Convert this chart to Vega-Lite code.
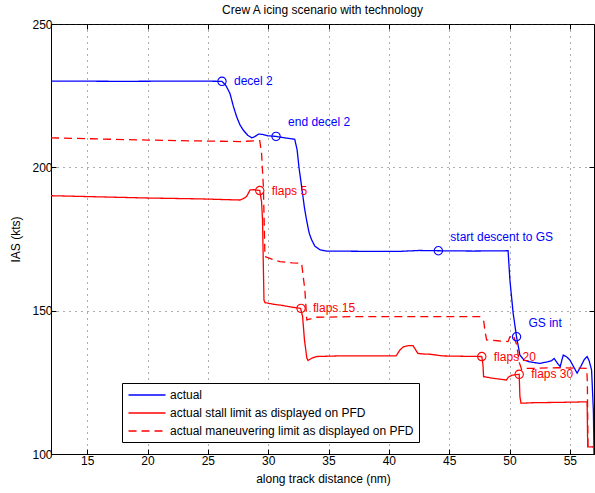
{
  "$schema": "https://vega.github.io/schema/vega-lite/v6.json",
  "width": 543,
  "height": 430,
  "autosize": {"type": "none"},
  "padding": {"left": 51, "top": 24, "right": 1, "bottom": 39},
  "background": "white",
  "title": {"text": "Crew A icing scenario with technology", "fontSize": 12, "fontWeight": "normal", "font": "Liberation Sans", "color": "black", "offset": 1},
  "datasets": {
    "lines": [
      {"series": "actual", "x": 12, "y": 230.1},
      {"series": "actual", "x": 18, "y": 230.0},
      {"series": "actual", "x": 24, "y": 230.1},
      {"series": "actual", "x": 26.17, "y": 230.0},
      {"series": "actual", "x": 26.5, "y": 228.5},
      {"series": "actual", "x": 26.83, "y": 225.8},
      {"series": "actual", "x": 27.1, "y": 221.5},
      {"series": "actual", "x": 27.38, "y": 217.7},
      {"series": "actual", "x": 27.66, "y": 214.8},
      {"series": "actual", "x": 27.93, "y": 213.0},
      {"series": "actual", "x": 28.3, "y": 211.2},
      {"series": "actual", "x": 28.63, "y": 210.3},
      {"series": "actual", "x": 28.85, "y": 210.6},
      {"series": "actual", "x": 29.2, "y": 211.6},
      {"series": "actual", "x": 29.5, "y": 211.5},
      {"series": "actual", "x": 30.0, "y": 211.0},
      {"series": "actual", "x": 30.6, "y": 210.8},
      {"series": "actual", "x": 31.5, "y": 210.2},
      {"series": "actual", "x": 32.2, "y": 209.8},
      {"series": "actual", "x": 32.4, "y": 206.0},
      {"series": "actual", "x": 32.55, "y": 200.0},
      {"series": "actual", "x": 32.77, "y": 193.3},
      {"series": "actual", "x": 33.0, "y": 186.0},
      {"series": "actual", "x": 33.18, "y": 181.6},
      {"series": "actual", "x": 33.4, "y": 177.0},
      {"series": "actual", "x": 33.6, "y": 174.7},
      {"series": "actual", "x": 33.87, "y": 172.5},
      {"series": "actual", "x": 34.3, "y": 171.2},
      {"series": "actual", "x": 34.84, "y": 170.8},
      {"series": "actual", "x": 38, "y": 170.7},
      {"series": "actual", "x": 41, "y": 170.7},
      {"series": "actual", "x": 42.5, "y": 171.0},
      {"series": "actual", "x": 44.1, "y": 170.9},
      {"series": "actual", "x": 47, "y": 170.8},
      {"series": "actual", "x": 49.88, "y": 170.9},
      {"series": "actual", "x": 50.03, "y": 160.7},
      {"series": "actual", "x": 50.3, "y": 149.1},
      {"series": "actual", "x": 50.58, "y": 140.9},
      {"series": "actual", "x": 50.86, "y": 134.5},
      {"series": "actual", "x": 51.2, "y": 132.8},
      {"series": "actual", "x": 51.6, "y": 132.2},
      {"series": "actual", "x": 52.5, "y": 131.6},
      {"series": "actual", "x": 53.2, "y": 132.2},
      {"series": "actual", "x": 53.5, "y": 132.6},
      {"series": "actual", "x": 53.7, "y": 133.3},
      {"series": "actual", "x": 54.0, "y": 131.5},
      {"series": "actual", "x": 54.2, "y": 130.5},
      {"series": "actual", "x": 54.45, "y": 134.5},
      {"series": "actual", "x": 54.7, "y": 134.0},
      {"series": "actual", "x": 55.0, "y": 132.8},
      {"series": "actual", "x": 55.3, "y": 130.5},
      {"series": "actual", "x": 55.6, "y": 128.2},
      {"series": "actual", "x": 55.9, "y": 130.5},
      {"series": "actual", "x": 56.2, "y": 133.0},
      {"series": "actual", "x": 56.43, "y": 134.0},
      {"series": "actual", "x": 56.6, "y": 132.5},
      {"series": "actual", "x": 56.8, "y": 129.3},
      {"series": "actual", "x": 56.95, "y": 115.0},
      {"series": "actual", "x": 57.0, "y": 100.0},

      {"series": "actual stall limit as displayed on PFD", "x": 12, "y": 190.1},
      {"series": "actual stall limit as displayed on PFD", "x": 16, "y": 189.7},
      {"series": "actual stall limit as displayed on PFD", "x": 20, "y": 189.3},
      {"series": "actual stall limit as displayed on PFD", "x": 24.3, "y": 189.0},
      {"series": "actual stall limit as displayed on PFD", "x": 27.66, "y": 188.6},
      {"series": "actual stall limit as displayed on PFD", "x": 28.0, "y": 189.2},
      {"series": "actual stall limit as displayed on PFD", "x": 28.2, "y": 189.8},
      {"series": "actual stall limit as displayed on PFD", "x": 28.5, "y": 192.1},
      {"series": "actual stall limit as displayed on PFD", "x": 28.8, "y": 192.2},
      {"series": "actual stall limit as displayed on PFD", "x": 29.3, "y": 191.9},
      {"series": "actual stall limit as displayed on PFD", "x": 29.45, "y": 188.0},
      {"series": "actual stall limit as displayed on PFD", "x": 29.53, "y": 181.6},
      {"series": "actual stall limit as displayed on PFD", "x": 29.6, "y": 165.0},
      {"series": "actual stall limit as displayed on PFD", "x": 29.65, "y": 153.7},
      {"series": "actual stall limit as displayed on PFD", "x": 29.73, "y": 152.8},
      {"series": "actual stall limit as displayed on PFD", "x": 30.5, "y": 152.2},
      {"series": "actual stall limit as displayed on PFD", "x": 31.2, "y": 151.8},
      {"series": "actual stall limit as displayed on PFD", "x": 32.0, "y": 151.2},
      {"series": "actual stall limit as displayed on PFD", "x": 32.68, "y": 150.8},
      {"series": "actual stall limit as displayed on PFD", "x": 32.85, "y": 148.0},
      {"series": "actual stall limit as displayed on PFD", "x": 33.0, "y": 140.0},
      {"series": "actual stall limit as displayed on PFD", "x": 33.2, "y": 133.5},
      {"series": "actual stall limit as displayed on PFD", "x": 33.3, "y": 132.6},
      {"series": "actual stall limit as displayed on PFD", "x": 33.6, "y": 133.4},
      {"series": "actual stall limit as displayed on PFD", "x": 34.0, "y": 134.0},
      {"series": "actual stall limit as displayed on PFD", "x": 35.7, "y": 134.2},
      {"series": "actual stall limit as displayed on PFD", "x": 40.6, "y": 134.2},
      {"series": "actual stall limit as displayed on PFD", "x": 40.9, "y": 136.2},
      {"series": "actual stall limit as displayed on PFD", "x": 41.2, "y": 137.4},
      {"series": "actual stall limit as displayed on PFD", "x": 41.6, "y": 137.8},
      {"series": "actual stall limit as displayed on PFD", "x": 42.0, "y": 137.8},
      {"series": "actual stall limit as displayed on PFD", "x": 42.4, "y": 135.1},
      {"series": "actual stall limit as displayed on PFD", "x": 42.8, "y": 134.9},
      {"series": "actual stall limit as displayed on PFD", "x": 43.4, "y": 134.8},
      {"series": "actual stall limit as displayed on PFD", "x": 44.5, "y": 134.2},
      {"series": "actual stall limit as displayed on PFD", "x": 46, "y": 134.1},
      {"series": "actual stall limit as displayed on PFD", "x": 47.7, "y": 134.0},
      {"series": "actual stall limit as displayed on PFD", "x": 47.8, "y": 131.0},
      {"series": "actual stall limit as displayed on PFD", "x": 47.85, "y": 127.0},
      {"series": "actual stall limit as displayed on PFD", "x": 48.5, "y": 126.5},
      {"series": "actual stall limit as displayed on PFD", "x": 49.75, "y": 125.8},
      {"series": "actual stall limit as displayed on PFD", "x": 49.9, "y": 126.8},
      {"series": "actual stall limit as displayed on PFD", "x": 50.2, "y": 127.5},
      {"series": "actual stall limit as displayed on PFD", "x": 50.8, "y": 127.8},
      {"series": "actual stall limit as displayed on PFD", "x": 50.86, "y": 120.0},
      {"series": "actual stall limit as displayed on PFD", "x": 50.95, "y": 117.7},
      {"series": "actual stall limit as displayed on PFD", "x": 52, "y": 117.9},
      {"series": "actual stall limit as displayed on PFD", "x": 54, "y": 118.0},
      {"series": "actual stall limit as displayed on PFD", "x": 56.43, "y": 118.2},
      {"series": "actual stall limit as displayed on PFD", "x": 56.48, "y": 102.5},
      {"series": "actual stall limit as displayed on PFD", "x": 57, "y": 102.5},

      {"series": "actual maneuvering limit as displayed on PFD", "x": 12, "y": 210.3},
      {"series": "actual maneuvering limit as displayed on PFD", "x": 16, "y": 209.9},
      {"series": "actual maneuvering limit as displayed on PFD", "x": 20, "y": 209.5},
      {"series": "actual maneuvering limit as displayed on PFD", "x": 24.3, "y": 209.2},
      {"series": "actual maneuvering limit as displayed on PFD", "x": 27.66, "y": 209.0},
      {"series": "actual maneuvering limit as displayed on PFD", "x": 29.3, "y": 209.3},
      {"series": "actual maneuvering limit as displayed on PFD", "x": 29.45, "y": 204.9},
      {"series": "actual maneuvering limit as displayed on PFD", "x": 29.6, "y": 193.3},
      {"series": "actual maneuvering limit as displayed on PFD", "x": 29.73, "y": 168.9},
      {"series": "actual maneuvering limit as displayed on PFD", "x": 30.3, "y": 168.0},
      {"series": "actual maneuvering limit as displayed on PFD", "x": 30.97, "y": 167.1},
      {"series": "actual maneuvering limit as displayed on PFD", "x": 32.0, "y": 166.7},
      {"series": "actual maneuvering limit as displayed on PFD", "x": 32.77, "y": 166.5},
      {"series": "actual maneuvering limit as displayed on PFD", "x": 32.9, "y": 162.0},
      {"series": "actual maneuvering limit as displayed on PFD", "x": 33.04, "y": 157.2},
      {"series": "actual maneuvering limit as displayed on PFD", "x": 33.15, "y": 150.0},
      {"series": "actual maneuvering limit as displayed on PFD", "x": 33.2, "y": 146.8},
      {"series": "actual maneuvering limit as displayed on PFD", "x": 34.0, "y": 147.7},
      {"series": "actual maneuvering limit as displayed on PFD", "x": 36.8, "y": 147.9},
      {"series": "actual maneuvering limit as displayed on PFD", "x": 40, "y": 147.9},
      {"series": "actual maneuvering limit as displayed on PFD", "x": 44, "y": 147.9},
      {"series": "actual maneuvering limit as displayed on PFD", "x": 47.54, "y": 147.9},
      {"series": "actual maneuvering limit as displayed on PFD", "x": 47.87, "y": 146.2},
      {"series": "actual maneuvering limit as displayed on PFD", "x": 47.95, "y": 143.3},
      {"series": "actual maneuvering limit as displayed on PFD", "x": 48.1, "y": 139.8},
      {"series": "actual maneuvering limit as displayed on PFD", "x": 49.0, "y": 139.5},
      {"series": "actual maneuvering limit as displayed on PFD", "x": 49.88, "y": 139.2},
      {"series": "actual maneuvering limit as displayed on PFD", "x": 50.03, "y": 140.9},
      {"series": "actual maneuvering limit as displayed on PFD", "x": 50.3, "y": 141.5},
      {"series": "actual maneuvering limit as displayed on PFD", "x": 50.6, "y": 138.0},
      {"series": "actual maneuvering limit as displayed on PFD", "x": 50.8, "y": 132.0},
      {"series": "actual maneuvering limit as displayed on PFD", "x": 51.0, "y": 129.5},
      {"series": "actual maneuvering limit as displayed on PFD", "x": 51.1, "y": 129.9},
      {"series": "actual maneuvering limit as displayed on PFD", "x": 52.0, "y": 129.9},
      {"series": "actual maneuvering limit as displayed on PFD", "x": 54, "y": 130.1},
      {"series": "actual maneuvering limit as displayed on PFD", "x": 56.4, "y": 129.9},
      {"series": "actual maneuvering limit as displayed on PFD", "x": 56.45, "y": 124.7},
      {"series": "actual maneuvering limit as displayed on PFD", "x": 56.5, "y": 102.5},
      {"series": "actual maneuvering limit as displayed on PFD", "x": 57, "y": 102.5}
    ],
    "events": [
      {"label": "decel 2", "series": "actual", "place": "right", "x": 26.17, "y": 230.0},
      {"label": "end decel 2", "series": "actual", "place": "above", "x": 30.65, "y": 210.8},
      {"label": "start descent to GS", "series": "actual", "place": "above", "x": 44.1, "y": 170.9},
      {"label": "GS int", "series": "actual", "place": "above", "x": 50.58, "y": 140.9},
      {"label": "flaps 5", "series": "stall", "place": "right", "x": 29.3, "y": 191.9},
      {"label": "flaps 15", "series": "stall", "place": "right", "x": 32.72, "y": 150.8},
      {"label": "flaps 20", "series": "stall", "place": "right", "x": 47.7, "y": 134.0},
      {"label": "flaps 30", "series": "stall", "place": "right", "x": 50.8, "y": 127.8}
    ]
  },
  "resolve": {"axis": {"x": "independent", "y": "independent"}},
  "layer": [
    {
      "data": {"name": "lines"},
      "mark": {"type": "line", "strokeWidth": 1.3, "clip": true},
      "encoding": {
        "x": {"field": "x", "type": "quantitative", "scale": {"domain": [12, 57], "nice": false, "zero": false},
              "axis": {"orient": "bottom", "values": [15, 20, 25, 30, 35, 40, 45, 50, 55], "grid": true, "title": "along track distance (nm)", "titleX": 272, "titleY": 24, "titleBaseline": "middle", "labelPadding": 6}},
        "y": {"field": "y", "type": "quantitative", "scale": {"domain": [100, 250], "nice": false, "zero": false},
              "axis": {"orient": "left", "values": [100, 150, 200, 250], "grid": true, "title": "IAS (kts)", "titleX": -36, "titleY": 215, "titleAngle": 270, "titleBaseline": "middle", "labelPadding": 4}},
        "color": {"field": "series", "type": "nominal",
                  "scale": {"domain": ["actual", "actual stall limit as displayed on PFD", "actual maneuvering limit as displayed on PFD"], "range": ["#0000ff", "#ff0000", "#ff0000"]},
                  "legend": {"orient": "none", "legendX": 71, "legendY": 359, "title": null}},
        "strokeDash": {"field": "series", "type": "nominal",
                  "scale": {"domain": ["actual", "actual stall limit as displayed on PFD", "actual maneuvering limit as displayed on PFD"], "range": [[1, 0], [1, 0], [8, 5]]},
                  "legend": {"orient": "none", "legendX": 71, "legendY": 359, "title": null}}
      }
    },
    {
      "data": {"name": "events"},
      "mark": {"type": "point", "filled": false, "size": 70, "strokeWidth": 1.1, "opacity": 1},
      "encoding": {
        "x": {"field": "x", "type": "quantitative", "axis": {"orient": "top", "values": [15, 20, 25, 30, 35, 40, 45, 50, 55], "labels": false, "grid": false, "title": null, "domain": false}},
        "y": {"field": "y", "type": "quantitative", "axis": {"orient": "right", "values": [100, 150, 200, 250], "labels": false, "grid": false, "title": null, "domain": false}},
        "stroke": {"condition": {"test": "datum.series === 'actual'", "value": "#0000ff"}, "value": "#ff0000"}
      }
    },
    {
      "data": {"name": "events"},
      "transform": [{"filter": "datum.place === 'right'"}],
      "mark": {"type": "text", "align": "left", "baseline": "middle", "dx": 12, "dy": 0, "fontSize": 12, "font": "Liberation Sans"},
      "encoding": {
        "x": {"field": "x", "type": "quantitative", "axis": null},
        "y": {"field": "y", "type": "quantitative", "axis": null},
        "text": {"field": "label"},
        "fill": {"condition": {"test": "datum.series === 'actual'", "value": "#0000ff"}, "value": "#ff0000"}
      }
    },
    {
      "data": {"name": "events"},
      "transform": [{"filter": "datum.place === 'above'"}],
      "mark": {"type": "text", "align": "left", "baseline": "middle", "dx": 12, "dy": -14, "fontSize": 12, "font": "Liberation Sans"},
      "encoding": {
        "x": {"field": "x", "type": "quantitative", "axis": null},
        "y": {"field": "y", "type": "quantitative", "axis": null},
        "text": {"field": "label"},
        "fill": {"condition": {"test": "datum.series === 'actual'", "value": "#0000ff"}, "value": "#ff0000"}
      }
    }
  ],
  "config": {
    "font": "Liberation Sans",
    "view": {"stroke": "black", "strokeWidth": 1},
    "axis": {
      "labelFont": "Liberation Sans", "labelFontSize": 12, "labelColor": "black",
      "titleFont": "Liberation Sans", "titleFontSize": 12, "titleFontWeight": "normal", "titleColor": "black",
      "domainColor": "black", "domainWidth": 1, "tickColor": "black", "tickSize": -5, "tickWidth": 1,
      "gridColor": "#333333", "gridDash": [1, 5], "gridOpacity": 0.8, "gridWidth": 1
    },
    "legend": {
      "strokeColor": "black", "fillColor": "white", "padding": 5,
      "labelFont": "Liberation Sans", "labelFontSize": 12, "labelColor": "black", "labelLimit": 0,
      "symbolType": "M-3.08,0L3.08,0", "symbolSize": 144, "symbolStrokeWidth": 1.3,
      "rowPadding": 5, "symbolOffset": 13, "labelOffset": 16, "cornerRadius": 0
    }
  }
}
